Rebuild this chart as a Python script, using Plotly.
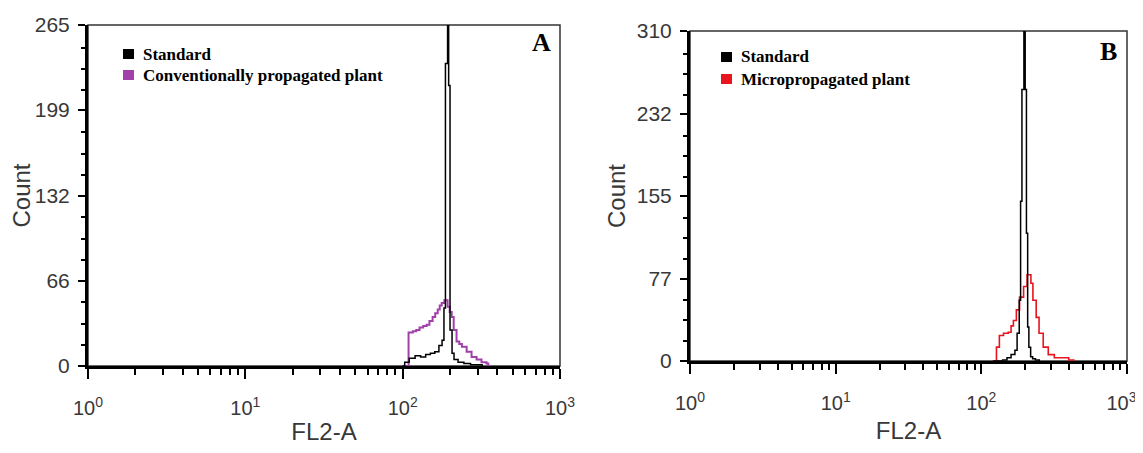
import plotly.graph_objects as go

# ---------------- data ----------------
# Panel A
a_std_x = [100, 103, 110, 120, 130, 140, 150, 160, 170, 178, 183, 187, 193, 196, 200, 206, 212, 225, 245, 270, 300, 320]
a_std_y = [0, 3, 6, 8, 7, 9, 10, 11, 16, 20, 45, 235, 400, 218, 28, 10, 5, 3, 2, 1, 1, 0]
a_conv_x = [100, 109, 116, 122, 128, 135, 142, 148, 155, 161, 167, 172, 177, 184, 193, 199, 205, 211, 220, 229, 238, 255, 274, 295, 317, 341, 350]
a_conv_y = [0, 26, 27, 28, 30, 31, 32, 35, 38, 41, 44, 47, 49, 51, 46, 42, 38, 28, 19, 17, 15, 11, 7, 5, 3, 2, 0]

# Panel B
b_std_x = [120, 140, 150, 160, 170, 176, 182, 186, 190, 196, 200, 204, 208, 212, 218, 225, 235, 250]
b_std_y = [0, 1, 3, 6, 10, 26, 57, 150, 255, 420, 255, 120, 32, 13, 4, 2, 1, 0]
b_micro_x = [120, 127, 133, 142, 153, 160, 166, 174, 183, 195, 206, 219, 226, 238, 249, 266, 288, 317, 398, 431]
b_micro_y = [0, 13, 24, 26, 27, 33, 38, 48, 60, 70, 81, 73, 57, 41, 26, 13, 6, 3, 1, 0]

x_tickvals = [1, 10, 100, 1000]
x_ticktext = ["10<sup>0</sup>", "10<sup>1</sup>", "10<sup>2</sup>", "10<sup>3</sup>"]
# last label of panel B sits at the page edge: pad it so it stays inside
x_ticktext_b = x_ticktext[:-1] + ["10<sup>3</sup>\u00a0\u00a0"]
x_minor = [m * d for d in (1, 10, 100) for m in range(2, 10)]

a_yticks = [0, 66, 132, 199, 265]
b_yticks = [0, 77, 155, 232, 310]

a_labels = ["Standard", "Conventionally propagated plant"]
b_labels = ["Standard", "Micropropagated plant"]

# ---------------- styles ----------------
# the page body adds an 8px margin, so the figure is made smaller and
# all page-pixel positions below are shifted by that offset
OFF = 8
W, H = 1143 - OFF, 453 - 2 * OFF
BLACK = "#000000"
PURPLE = "#A040A8"
RED = "#E8141E"
TXT = "#383838"
SANS = "Liberation Sans, Arial, sans-serif"
SERIF = "Liberation Serif, Times New Roman, serif"


def px_x(p):
    return (p - OFF) / W


def px_y(p):
    return 1 - (p - OFF) / H


fig = go.Figure()
fig.add_trace(go.Scatter(x=a_conv_x, y=a_conv_y, mode="lines", line=dict(color=PURPLE, width=2, shape="hv"),
                         xaxis="x", yaxis="y", name=a_labels[1], showlegend=False))
fig.add_trace(go.Scatter(x=a_std_x, y=a_std_y, mode="lines", line=dict(color=BLACK, width=1.5, shape="hv"),
                         xaxis="x", yaxis="y", name=a_labels[0], showlegend=False))
fig.add_trace(go.Scatter(x=b_micro_x, y=b_micro_y, mode="lines", line=dict(color=RED, width=1.6, shape="hv"),
                         xaxis="x2", yaxis="y2", name=b_labels[1], showlegend=False))
fig.add_trace(go.Scatter(x=b_std_x, y=b_std_y, mode="lines", line=dict(color=BLACK, width=1.5, shape="hv"),
                         xaxis="x2", yaxis="y2", name=b_labels[0], showlegend=False))


def xaxis_cfg(dom, anchor, ticktext):
    return dict(
        type="log", range=[0, 3], domain=dom, anchor=anchor, automargin=False,
        showline=True, linewidth=3, linecolor=BLACK,
        ticks="outside", ticklen=10, tickwidth=2, tickcolor=BLACK,
        tickmode="array", tickvals=x_tickvals, ticktext=ticktext,
        tickfont=dict(family=SANS, size=20, color=TXT),
        ticklabelstandoff=12, ticklabeloverflow="allow",
        minor=dict(ticks="outside", ticklen=6, tickwidth=2, tickcolor=BLACK, tickvals=x_minor, showgrid=False),
        showgrid=False, zeroline=False,
        title=dict(text="FL2-A", font=dict(family=SANS, size=24, color=TXT), standoff=10),
    )


def yaxis_cfg(dom, anchor, ticks, standoff):
    step = (ticks[1] - ticks[0]) / 4.0
    minor_vals = [ticks[0] + i * step for i in range(1, 4 * (len(ticks) - 1)) if i % 4 != 0]
    return dict(
        range=[0, ticks[-1]], domain=dom, anchor=anchor, automargin=False,
        showline=True, linewidth=3, linecolor=BLACK,
        ticks="outside", ticklen=7, tickwidth=2, tickcolor=BLACK,
        tickmode="array", tickvals=ticks, ticktext=[str(t) for t in ticks],
        tickfont=dict(family=SANS, size=21, color=TXT),
        ticklabelstandoff=4, ticklabeloverflow="allow",
        minor=dict(ticks="outside", ticklen=4, tickwidth=2, tickcolor=BLACK, tickvals=minor_vals, showgrid=False),
        showgrid=False, zeroline=False,
        title=dict(text="Count", font=dict(family=SANS, size=24, color=TXT), standoff=standoff),
    )


fig.update_layout(
    width=W, height=H,
    margin=dict(l=0, r=0, t=0, b=0, autoexpand=False),
    paper_bgcolor="white", plot_bgcolor="white",
    showlegend=False,
    xaxis=xaxis_cfg([px_x(88), px_x(560)], "y", x_ticktext),
    yaxis=yaxis_cfg([px_y(366), px_y(25)], "x", a_yticks, 6),
    xaxis2=xaxis_cfg([px_x(690), px_x(1127)], "y2", x_ticktext_b),
    yaxis2=yaxis_cfg([px_y(361), px_y(31)], "x2", b_yticks, 5),
)

shapes = []
# thin frame (top / right)
for xr, yr in (("x domain", "y domain"), ("x2 domain", "y2 domain")):
    shapes.append(dict(type="rect", xref=xr, yref=yr, x0=0, x1=1, y0=0, y1=1,
                       line=dict(color="#333333", width=1.5), layer="below"))

annotations = []


def legend(x_sq, ys, labels, colors):
    for yc, lab, col in zip(ys, labels, colors):
        shapes.append(dict(type="rect", xref="paper", yref="paper",
                           x0=px_x(x_sq), x1=px_x(x_sq + 11), y0=px_y(yc + 5), y1=px_y(yc - 5),
                           fillcolor=col, line=dict(width=0)))
        annotations.append(dict(xref="paper", yref="paper", x=px_x(x_sq + 18), y=px_y(yc),
                                xanchor="left", yanchor="middle", showarrow=False,
                                text="<b>%s</b>" % lab,
                                font=dict(family=SERIF, size=17, color=BLACK)))


legend(123, [54, 75], a_labels, [BLACK, PURPLE])
legend(721, [57, 79], b_labels, [BLACK, RED])

annotations.append(dict(xref="paper", yref="paper", x=px_x(541), y=px_y(43), xanchor="center", yanchor="middle",
                        showarrow=False, text="<b>A</b>", font=dict(family=SERIF, size=26, color=BLACK)))
annotations.append(dict(xref="paper", yref="paper", x=px_x(1108), y=px_y(51), xanchor="center", yanchor="middle",
                        showarrow=False, text="<b>B</b>", font=dict(family=SERIF, size=26, color=BLACK)))

fig.update_layout(shapes=shapes, annotations=annotations)

fig.write_html("out.html")
